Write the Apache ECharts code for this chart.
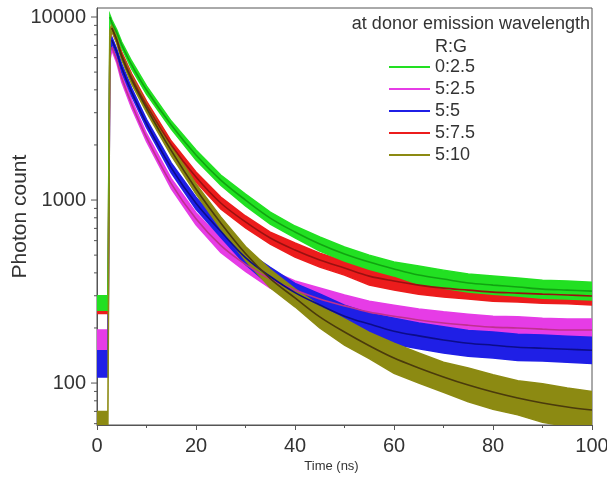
<!DOCTYPE html>
<html><head><meta charset="utf-8">
<script src="https://cdn.jsdelivr.net/npm/echarts@6/dist/echarts.min.js"></script>
<style>html,body{margin:0;padding:0;background:#fff}#c{width:607px;height:493px}</style>
</head><body><div id="c"></div>
<script>
// ---- data ----
const times = [0, 2.2, 2.6, 3, 4, 5, 7, 10, 15, 20, 25, 30, 35, 40, 45, 50, 55, 60, 65, 70, 75, 80, 85, 90, 95, 100];
const seriesNames = ['0:2.5', '5:2.5', '5:5', '5:7.5', '5:10'];

// 0:2.5 (green)
const greenFit = [null, null, 10000, 9300, 8200, 7030, 5470, 3990, 2570, 1762, 1285, 1000, 797, 669, 575, 507, 458, 420, 389, 370, 352, 343, 335, 326, 322, 318];
const greenLo  = [250, 250, 9800, 8960, 7900, 6770, 5200, 3790, 2440, 1655, 1207, 928, 739, 621, 527, 464, 419, 385, 347, 330, 314, 306, 299, 291, 288, 284];
const greenHi  = [300, 300, 10300, 9650, 8510, 7300, 5750, 4200, 2700, 1877, 1369, 1078, 859, 721, 628, 554, 500, 459, 436, 414, 394, 384, 375, 365, 361, 356];
// 5:2.5 (magenta)
const magentaFit = [null, null, null, 6850, 5820, 4650, 3350, 2200, 1230, 790, 565, 445, 370, 322, 288, 264, 244, 232, 221, 213, 207, 202, 200, 197, 195, 195];
const magentaLo  = [145, 145, 5800, 6600, 5610, 4420, 3180, 2090, 1155, 733, 517, 407, 330, 288, 251, 230, 213, 202, 193, 186, 180, 176, 174, 172, 170, 170];
const magentaHi  = [195, 195, 6650, 7110, 6040, 4890, 3520, 2310, 1310, 852, 617, 486, 414, 361, 331, 303, 280, 266, 254, 245, 238, 232, 230, 226, 224, 224];
// 5:5 (blue)
const blueFit = [null, null, null, 7480, 6440, 5260, 3890, 2620, 1500, 960, 675, 485, 382, 312, 267, 232, 210, 192, 181, 172, 165, 161, 157, 155, 153, 151];
const blueLo  = [108, 108, 6300, 7210, 6200, 5000, 3700, 2490, 1408, 890, 626, 444, 341, 278, 233, 202, 183, 163, 154, 146, 140, 137, 133, 132, 130, 128];
const blueHi  = [150, 150, 7250, 7760, 6680, 5530, 4090, 2760, 1597, 1035, 728, 530, 428, 350, 307, 266, 241, 226, 213, 203, 194, 190, 185, 183, 180, 178];
// 5:7.5 (red)
const redFit = [null, null, null, 8710, 7480, 6190, 4650, 3300, 2000, 1335, 963, 759, 620, 533, 470, 425, 384, 361, 343, 330, 322, 314, 310, 306, 303, 299];
const redLo  = [240, 240, 7400, 8390, 7210, 5960, 4420, 3140, 1900, 1254, 893, 704, 575, 488, 430, 389, 343, 322, 306, 295, 288, 280, 277, 273, 271, 267];
const redHi  = [290, 290, 8450, 9040, 7760, 6430, 4890, 3470, 2100, 1422, 1038, 818, 668, 582, 513, 464, 430, 404, 384, 370, 361, 352, 347, 343, 339, 335];
// 5:10 (olive)
const oliveFit = [null, null, null, 8710, 7480, 6040, 4530, 3180, 1860, 1150, 750, 510, 372, 292, 230, 190, 160, 137, 121, 108, 97.5, 89.3, 82.8, 77.8, 74.0, 71.2];
const oliveLo  = [57, 57, 7400, 8390, 7210, 5820, 4310, 3020, 1746, 1080, 696, 467, 332, 261, 200, 161, 136, 113, 100, 89, 79, 72, 67, 61, 58, 56];
const oliveHi  = [70, 70, 8450, 9040, 7760, 6270, 4770, 3350, 1981, 1225, 809, 557, 417, 327, 264, 224, 189, 165, 146, 130, 121, 111, 103, 99, 94, 90];

const yMajorTicks = [100, 1000, 10000];
const yMinorTicks = [60, 70, 80, 90, 200, 300, 400, 500, 600, 700, 800, 900, 2000, 3000, 4000, 5000, 6000, 7000, 8000, 9000];
const headerText = 'at donor emission wavelength';
const legendTitle = 'R:G';

// ---- styling ----
const FONT = 'Liberation Sans, Arial, sans-serif';
const TXT = '#333';
const AX = '#555';
const bandColors = { '0:2.5': '#22e022', '5:2.5': '#e63ce6', '5:5': '#1f1fe6', '5:7.5': '#ec1c1c', '5:10': '#8c8a12' };
const fitColors  = { '0:2.5': '#11a311', '5:2.5': '#c0308f', '5:5': '#0c0c8a', '5:7.5': '#9a1010', '5:10': '#4a3a0c' };

function pairs(arr) {
  const out = [];
  for (let i = 0; i < times.length; i++) if (arr[i] != null) out.push([times[i], arr[i]]);
  return out;
}

function band(name, lo, hi, z) {
  const color = bandColors[name];
  return {
    type: 'custom', name: name, coordinateSystem: 'cartesian2d',
    xAxisIndex: 0, yAxisIndex: 0, z: z, silent: true,
    itemStyle: { color: color },
    data: [[times[0], lo[0]]],
    renderItem: function (params, api) {
      const pts = [];
      for (let i = 0; i < times.length; i++) pts.push(api.coord([times[i], hi[i]]));
      for (let i = times.length - 1; i >= 0; i--) pts.push(api.coord([times[i], lo[i]]));
      const cs = params.coordSys;
      return {
        type: 'polygon', shape: { points: pts },
        style: { fill: color, stroke: color, lineWidth: 1.5 },
        clipPath: { type: 'rect', shape: { x: cs.x, y: cs.y, width: cs.width, height: cs.height } }
      };
    }
  };
}

function fit(name, arr) {
  return {
    type: 'line', name: 'fit ' + name, data: pairs(arr), showSymbol: false, smooth: 0.35,
    xAxisIndex: 0, yAxisIndex: 0, z: 10, silent: true,
    lineStyle: { color: fitColors[name], width: 1.6 }, itemStyle: { color: fitColors[name] }
  };
}

function yTicks(values, len) {
  return {
    type: 'custom', coordinateSystem: 'cartesian2d', xAxisIndex: 0, yAxisIndex: 0,
    silent: true, z: 20, clip: false,
    data: values.map(function (v) { return [0, v]; }),
    renderItem: function (params, api) {
      const p = api.coord([0, api.value(1)]);
      return { type: 'line', shape: { x1: p[0] - len, y1: p[1], x2: p[0], y2: p[1] },
        style: { stroke: AX, lineWidth: 1 } };
    }
  };
}

const chart = echarts.init(document.getElementById('c'));
const yMin = 59, yMax = 11200;
chart.setOption({
  animation: false,
  backgroundColor: '#fff',
  textStyle: { fontFamily: FONT },
  grid: { left: 97, right: 15, top: 8, bottom: 68, containLabel: false, outerBoundsMode: 'none',
    show: true, borderColor: AX, borderWidth: 1, backgroundColor: 'transparent' },
  xAxis: {
    type: 'value', min: 0, max: 100, interval: 20,
    name: 'Time (ns)', nameLocation: 'middle', nameGap: 35, nameMoveOverlap: false,
    nameTextStyle: { fontSize: 13, color: TXT, fontFamily: FONT, padding: [0, 26, 0, 0] },
    axisLine: { lineStyle: { color: AX, width: 1 } },
    axisTick: { inside: false, length: 5, lineStyle: { color: AX } },
    minorTick: { show: true, splitNumber: 2, length: 3, lineStyle: { color: AX } },
    splitLine: { show: false },
    axisLabel: { fontSize: 20, color: TXT, margin: 11, fontFamily: FONT }
  },
  yAxis: {
    type: 'log', logBase: 10, min: yMin, max: yMax,
    name: 'Photon count', nameLocation: 'middle', nameGap: 66, nameRotate: 90, nameMoveOverlap: false,
    nameTextStyle: { fontSize: 21, color: TXT, fontFamily: FONT },
    axisLine: { show: true, lineStyle: { color: AX, width: 1 } },
    axisTick: { show: false },
    splitLine: { show: false },
    axisLabel: { fontSize: 20, color: TXT, margin: 11, fontFamily: FONT, customValues: yMajorTicks,
      formatter: function (v) { return String(Math.round(v)); } }
  },
  legend: {
    orient: 'vertical', left: 389, top: 56, padding: 0, itemGap: 0,
    icon: 'rect', itemWidth: 41, itemHeight: 2,
    data: seriesNames,
    textStyle: { fontSize: 18, color: TXT, lineHeight: 22, fontFamily: FONT },
    itemTextGap: 5, selectedMode: false
  },
  graphic: [
    { type: 'text', right: 17, top: 15, style: { text: headerText, fontSize: 18, fill: TXT, fontFamily: FONT } },
    { type: 'text', left: 435, top: 38, style: { text: legendTitle, fontSize: 18, fill: TXT, fontFamily: FONT } }
  ],
  series: [
    band('5:2.5', magentaLo, magentaHi, 2),
    band('5:5', blueLo, blueHi, 3),
    band('5:7.5', redLo, redHi, 4),
    band('0:2.5', greenLo, greenHi, 5),
    band('5:10', oliveLo, oliveHi, 6),
    fit('5:2.5', magentaFit),
    fit('5:5', blueFit),
    fit('5:7.5', redFit),
    fit('0:2.5', greenFit),
    fit('5:10', oliveFit),
    yTicks(yMajorTicks, 6),
    yTicks(yMinorTicks, 3)
  ]
});
</script>
</body></html>
